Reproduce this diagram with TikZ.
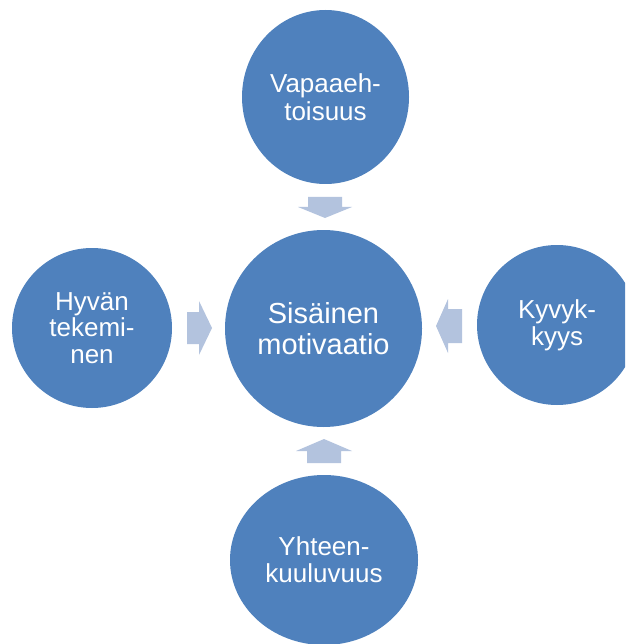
\documentclass[tikz,border=0pt]{standalone}
\usepackage{fontspec}
\setmainfont{Liberation Sans}
\usetikzlibrary{shapes.geometric}
\definecolor{circblue}{HTML}{4F81BD}
\definecolor{arrowblue}{HTML}{B3C3DE}
\begin{document}
\begin{tikzpicture}[x=1pt,y=-1pt,
  bubble/.style={ellipse, fill=circblue, text=white, inner sep=0pt, align=center,
    font=\fontsize{26}{27}\selectfont},
  blockarrow/.style={fill=arrowblue}]
\useasboundingbox (0,0) rectangle (625,644);
\clip (0,0) rectangle (625,644);
\node[bubble, minimum width=197pt, minimum height=197pt,
  font=\fontsize{29}{31}\selectfont] (center) at (323.5,328.5) {Sisäinen\\motivaatio};
\node[bubble, minimum width=167pt, minimum height=174pt,
  font=\fontsize{26}{27.6}\selectfont] (top) at (325.5,97) {Vapaaeh-\\toisuus};
\node[bubble, minimum width=160pt, minimum height=160pt,
  font=\fontsize{26}{26.7}\selectfont] (left) at (92,328) {Hyvän\\tekemi-\\nen};
\node[bubble, minimum width=160pt, minimum height=160pt,
  font=\fontsize{26}{26.7}\selectfont] (right) at (557,325) {Kyvyk-\\kyys};
\node[bubble, minimum width=188pt, minimum height=170pt,
  font=\fontsize{26}{27.4}\selectfont] (bottom) at (324,560) {Yhteen-\\kuuluvuus};
% block arrows
\fill[blockarrow] (308,197) -- (342,197) -- (342,207) -- (352,207) -- (325,218) -- (298,207) -- (308,207) -- cycle;
\fill[blockarrow] (307,463) -- (341,463) -- (341,451) -- (352,451) -- (324,439) -- (296,451) -- (307,451) -- cycle;
\fill[blockarrow] (187,312) -- (199,312) -- (199,301) -- (212,328) -- (199,355) -- (199,344) -- (187,344) -- cycle;
\fill[blockarrow] (462,309) -- (448,309) -- (448,299) -- (436,326) -- (448,353) -- (448,343) -- (462,343) -- cycle;
\end{tikzpicture}
\end{document}
